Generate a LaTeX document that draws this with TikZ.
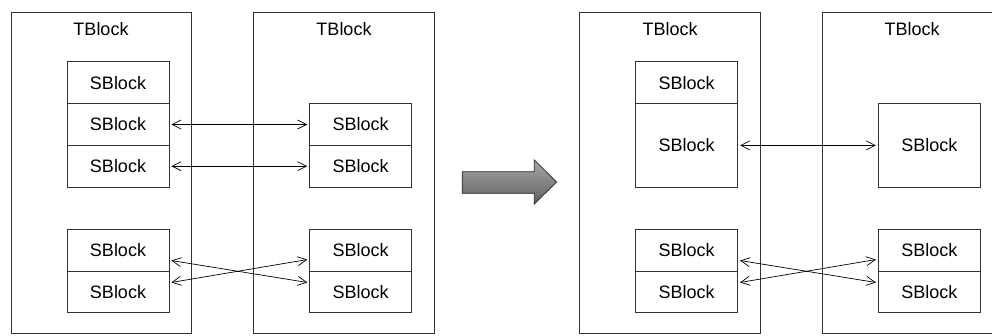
\documentclass[tikz,border=0pt]{standalone}
\usepackage{fontspec}
\setmainfont{Liberation Sans}
\usetikzlibrary{arrows.meta}

\tikzset{
  tblock/.style={draw=black!80, line width=0.8pt, minimum width=180.6pt, minimum height=321.2pt, inner sep=0pt},
  sblock/.style={draw=black!80, line width=0.8pt, minimum width=102pt, minimum height=41.7pt, inner sep=0pt},
  bigblock/.style={sblock, minimum height=83.3pt},
  title/.style={inner sep=0pt},
  link/.style={{Straight Barb[length=9pt,width=9pt]}-{Straight Barb[length=9pt,width=9pt]}, line width=0.7pt, shorten <=2pt, shorten >=2pt},
}

\begin{document}
\begin{tikzpicture}[x=1pt, y=-1pt, font=\fontsize{18}{21}\selectfont]
  \useasboundingbox (0,0) rectangle (992,335);

  % before
  \begin{scope}
    \node[tblock] (t1) at (101.35,172.9) {};
    \node[tblock] (t2) at (344,172.9) {};
    \node[title] (t1title) at (101,29) {TBlock};
    \node[title] (t2title) at (344,29) {TBlock};

    \node[sblock] (a1) at (118,82.7) {SBlock};
    \node[sblock] (a2) at (118,124.5) {SBlock};
    \node[sblock] (a3) at (118,166.2) {SBlock};
    \node[sblock] (a4) at (118,250.2) {SBlock};
    \node[sblock] (a5) at (118,291.8) {SBlock};

    \node[sblock] (b2) at (360.7,124.5) {SBlock};
    \node[sblock] (b3) at (360.7,166.2) {SBlock};
    \node[sblock] (b4) at (360.7,250.2) {SBlock};
    \node[sblock] (b5) at (360.7,291.8) {SBlock};

    \draw[link] (a2.east) -- (b2.west);
    \draw[link] (a3.east) -- (b3.west);
    \draw[link] ([yshift=-10pt]a4.east) -- ([yshift=9pt]b5.west);
    \draw[link] ([yshift=9pt]a5.east) -- ([yshift=-9pt]b4.west);
  \end{scope}

  % big arrow
  \shade[top color=black!35, bottom color=black!62, draw=black!85, line width=0.7pt]
    (462.3,171.7) -- (534.3,171.7) -- (534.3,160) -- (556.7,182)
    -- (534.3,204) -- (534.3,193.3) -- (462.3,193.3) -- cycle;

  % after
  \begin{scope}
    \node[tblock] (t3) at (670,172.9) {};
    \node[tblock] (t4) at (912.65,172.9) {};
    \node[title] (t3title) at (670,29) {TBlock};
    \node[title] (t4title) at (912,29) {TBlock};

    \node[sblock] (c1) at (686.7,82.7) {SBlock};
    \node[bigblock] (c2) at (686.7,145.35) {SBlock};
    \node[sblock] (c4) at (686.7,250.2) {SBlock};
    \node[sblock] (c5) at (686.7,291.8) {SBlock};

    \node[bigblock] (d2) at (929.3,145.35) {SBlock};
    \node[sblock] (d4) at (929.3,250.2) {SBlock};
    \node[sblock] (d5) at (929.3,291.8) {SBlock};

    \draw[link] (c2.east) -- (d2.west);
    \draw[link] ([yshift=-10pt]c4.east) -- ([yshift=9pt]d5.west);
    \draw[link] ([yshift=9pt]c5.east) -- ([yshift=-9pt]d4.west);
  \end{scope}
\end{tikzpicture}
\end{document}
